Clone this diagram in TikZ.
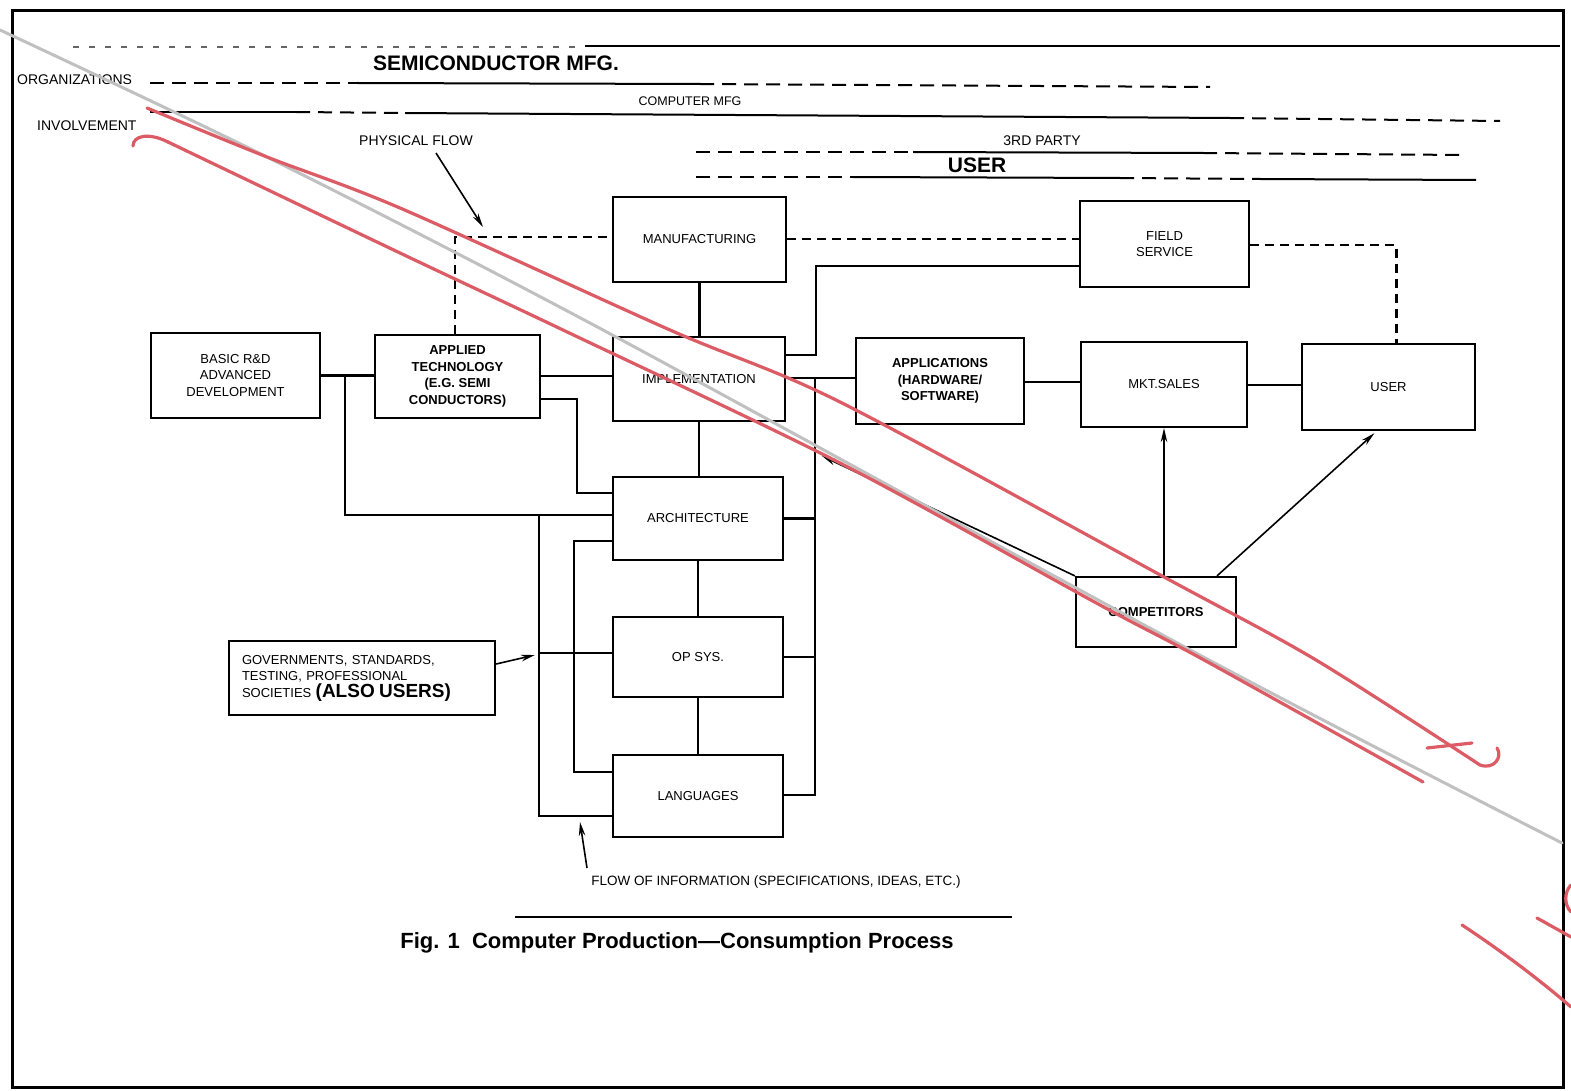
\documentclass[tikz,border=0pt]{standalone}
\usepackage{fontspec}
\setmainfont{Liberation Sans}
\usetikzlibrary{arrows.meta}
\definecolor{pen}{RGB}{220,92,102}
\definecolor{fold}{RGB}{192,192,192}
\begin{document}
\begin{tikzpicture}[x=1pt,y=-1pt,
  box/.style={draw=black,line width=2.2pt,align=center,inner sep=2pt,font=\fontsize{13}{16.5}\selectfont},
  conn/.style={line width=2.1pt},
  dsh/.style={line width=2.1pt,dash pattern=on 9pt off 6pt},
  arr/.style={line width=1.6pt,-{Stealth[length=14pt,width=6.5pt]}},
  hdr/.style={font=\fontsize{14}{16}\selectfont,inner sep=0pt},
  big/.style={font=\bfseries\fontsize{21}{24}\selectfont,inner sep=0pt},
  hline/.style={line width=2pt},
  hdash/.style={line width=2pt,dash pattern=on 14pt off 8pt},
  redpen/.style={draw=pen,line width=3.2pt,line cap=round,line join=round},
  foldline/.style={draw=fold,line width=3pt,line cap=round}]
\useasboundingbox (0,0) rectangle (1571,1091);
% frame
\draw[line width=3pt] (12,11) rectangle (1563,1087);

% header texts
\node[hdr,anchor=west] (org) at (17,80) {ORGANIZATIONS};
\node[hdr,anchor=west] (inv) at (37,126) {INVOLVEMENT};
\node[big] (semi) at (496,63) {SEMICONDUCTOR MFG.};
\node[font=\fontsize{12.5}{14}\selectfont,inner sep=0pt] (cmfg) at (690,101) {COMPUTER MFG};
\node[hdr] (third) at (1042,141) {3RD PARTY};
\node[big] (usr) at (977,165) {USER};
\node[hdr] (pf) at (416,141) {PHYSICAL FLOW};

% header lines
\draw[line width=1.2pt,dash pattern=on 6pt off 10pt,black!60] (73,47) -- (585,47);
\draw[line width=1.6pt] (585,46) -- (1560,46);
\draw[hdash] (150,83) -- (357,83);
\draw[hline] (357,83) -- (700,84);
\draw[hdash] (700,84) -- (1210,87);
\draw[hline] (150,112) -- (296,112);
\draw[hdash] (296,112) -- (405,113);
\draw[hline] (405,113) -- (1230,118);
\draw[hdash] (1230,118) -- (1500,121);
\draw[hdash] (696,152) -- (913,152);
\draw[hline] (913,152) -- (1203,153);
\draw[hdash] (1203,153) -- (1465,155);
\draw[hdash] (696,177) -- (853,177);
\draw[hline] (853,177) -- (1120,178);
\draw[hdash] (1120,178) -- (1260,179);
\draw[hline] (1260,179) -- (1476,180);

% boxes
\node[box,minimum width=169,minimum height=85] (basic) at (235.5,375.5) {BASIC R\&D\\ADVANCED\\DEVELOPMENT};
\node[box,minimum width=165,minimum height=83,font=\bfseries\fontsize{13}{16.5}\selectfont] (applied) at (457.5,376.5) {APPLIED\\TECHNOLOGY\\(E.G. SEMI\\CONDUCTORS)};
\node[box,minimum width=173,minimum height=85] (manuf) at (699.5,239.5) {MANUFACTURING};
\node[box,minimum width=172,minimum height=84] (impl) at (699,379) {IMPLEMENTATION};
\node[box,minimum width=170,minimum height=83] (arch) at (698,518.5) {ARCHITECTURE};
\node[box,minimum width=170,minimum height=80] (opsys) at (698,657) {OP SYS.};
\node[box,minimum width=170,minimum height=82] (lang) at (698,796) {LANGUAGES};
\node[box,minimum width=169,minimum height=86] (field) at (1164.5,244) {FIELD\\SERVICE};
\node[box,minimum width=168,minimum height=86,font=\bfseries\fontsize{13}{16.5}\selectfont] (apps) at (940,381) {APPLICATIONS\\(HARDWARE/\\SOFTWARE)};
\node[box,minimum width=166,minimum height=85] (mkt) at (1164,384.5) {MKT.SALES};
\node[box,minimum width=173,minimum height=86] (user) at (1388.5,387) {USER};
\node[box,minimum width=160,minimum height=70,font=\bfseries\fontsize{13}{16.5}\selectfont] (comp) at (1156,612) {COMPETITORS};
\node[box,minimum width=266,minimum height=74,text width=240,align=left,inner xsep=13pt] (gov) at (362,678)
  {GOVERNMENTS, STANDARDS,\\TESTING, PROFESSIONAL\\SOCIETIES {\bfseries\fontsize{19}{19}\selectfont (ALSO USERS)}};

% junction coordinates
\coordinate (jA) at (345,376);
\coordinate (jB) at (539,515);
\coordinate (jC) at (539,653);
\coordinate (jCa) at (535,655);
\coordinate (jD) at (815,378);
\coordinate (cA) at (822,456);
\coordinate (pfA) at (483,227);
\coordinate (pfS) at (436,153);
\coordinate (fiT) at (580,822);
\coordinate (fiS) at (587,868);

% solid connectors
\draw[conn] (basic.east) -- (basic.east -| applied.west);
\draw[conn] (jA) |- (arch.west |- 0,515);
\draw[conn] (applied.east |- 0,376) -- (impl.west |- 0,376);
\draw[conn] (applied.east |- 0,399) -- ++(36,0) |- (arch.west |- 0,493);
\draw[conn] (arch.west |- 0,541) -- ++(-38,0) |- (lang.west |- 0,772);
\draw[conn] (jB) |- (lang.west |- 0,816);
\draw[conn] (jC) -- (opsys.west |- jC);
\draw[conn] (impl.east |- 0,378) -- (apps.west |- 0,378);
\draw[conn] (jD) |- (lang.east |- 0,795);
\draw[conn] (arch.east) -- (arch.east -| jD);
\draw[conn] (opsys.east) -- (opsys.east -| jD);
\draw[conn] (impl.east |- 0,355) -- ++(30,0) |- (field.west |- 0,266);
\draw[conn] (manuf.south) -- (manuf.south |- impl.north);
\draw[conn] (impl.south) -- (impl.south |- arch.north);
\draw[conn] (arch.south) -- (arch.south |- opsys.north);
\draw[conn] (opsys.south) -- (opsys.south |- lang.north);
\draw[conn] (apps.east |- 0,382) -- (mkt.west |- 0,382);
\draw[conn] (mkt.east |- 0,385) -- (user.west |- 0,385);

% dashed connectors (physical flow)
\draw[dsh] (applied.north -| 455,0) |- (manuf.west |- 0,237);
\draw[dsh] (manuf.east |- 0,239) -- (field.west |- 0,239);
\draw[dsh] (field.east |- 0,245) -| ([xshift=8pt]user.north);

% arrows
\draw[arr] (gov.east |- 0,664) -- (jCa);
\draw[arr] (comp.north -| mkt.south) -- (mkt.south);
\draw[arr] ([xshift=61pt]comp.north) -- ([xshift=-14pt,yshift=-2pt]user.south);
\draw[arr] (comp.north west) -- (cA);
\draw[arr] (pfS) -- (pfA);
\draw[arr] (fiS) -- (fiT);

% bottom texts
\node[font=\fontsize{13.5}{16}\selectfont,inner sep=0pt] (fi) at (776,882) {FLOW OF INFORMATION (SPECIFICATIONS, IDEAS, ETC.)};
\draw[line width=1.8pt] (515,917) -- (1012,917);
\node[font=\bfseries\fontsize{22}{26}\selectfont,inner sep=0pt] (cap) at (677,943) {Fig. 1\ \ Computer Production—Consumption Process};

% fold line and pen marks on the scan
\draw[foldline] plot[smooth] coordinates {(0,30) (267,157) (603,330) (1209,660) (1562,843)};
\draw[redpen] plot[smooth] coordinates {(147,108) (267,157) (400,208) (670,330) (840,402) (1164,577) (1316,660) (1480,765)}
  .. controls (1494,770) and (1503,757) .. (1497,748);
\draw[redpen] (1427,748) -- (1472,743);
\draw[redpen] (133,146) .. controls (133,136) and (148,132) .. (168,142);
\draw[redpen] plot[smooth] coordinates {(168,142) (400,253) (563,330) (840,463) (1100,605) (1204,660) (1423,782)};
\draw[redpen] (1462,925) .. controls (1500,950) and (1540,980) .. (1571,1007);
\draw[redpen] (1537,918) -- (1571,937);
\draw[redpen] (1571,885) .. controls (1564,892) and (1564,905) .. (1571,912);
\end{tikzpicture}
\end{document}
